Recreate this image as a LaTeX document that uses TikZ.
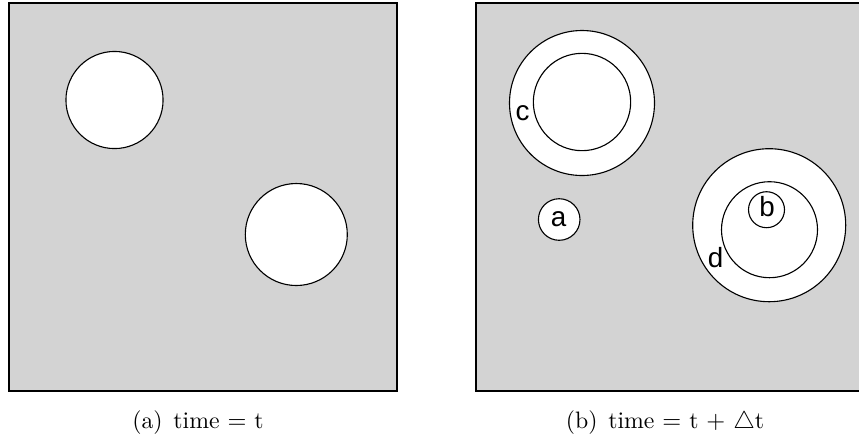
\documentclass[tikz,border=0pt]{standalone}
\usepackage{fontspec}
\newfontfamily\lblfont{Liberation Sans}
\definecolor{panelgray}{RGB}{211,211,211}
\begin{document}
\begin{tikzpicture}[x=0.45pt,y=-0.45pt,
  panel/.style={draw=black,line width=0.8pt,fill=panelgray},
  hole/.style={circle,draw=black,line width=0.5pt,fill=white,inner sep=0pt,outer sep=0pt},
  letter/.style={font=\lblfont\fontsize{12.5}{15}\selectfont,inner sep=0pt},
  subcap/.style={anchor=base,font=\fontsize{10.7}{13}\selectfont,inner sep=0pt}]
\useasboundingbox (0,0) rectangle (859,436);
% left panel: time = t
\draw[panel] (9,3) rectangle (397,391);
\node[hole,minimum size=43.7pt] (l1) at (114.5,100) {};
\node[hole,minimum size=45.9pt] (l2) at (296.3,234.5) {};
% right panel: time = t + dt (runs past the right border)
\begin{scope}
\clip (0,0) rectangle (859,436);
\draw[panel] (476,3) rectangle (864,391);
\end{scope}
\node[hole,minimum size=65.25pt] (cout) at (582,103) {};
\node[hole,minimum size=43.8pt] (cin) at (582,102) {};
\node[hole,minimum size=68.85pt] (dout) at (769.2,225.2) {};
\node[hole,minimum size=43.2pt] (din) at (769.5,229.7) {};
\node[hole,minimum size=16.2pt] (b) at (766.5,209.7) {};
\node[hole,minimum size=18.7pt] (a) at (559.2,219.5) {};
\node[letter] (la) at (558.5,219) {a};
\node[letter] (lb) at (767,207) {b};
\node[letter] (lc) at (522.5,113) {c};
\node[letter] (ld) at (715.5,258) {d};
% sub-captions
\node[subcap] (capa) at (198,428) {(a)\hspace{0.45em}time $=$ t};
\node[subcap] (capb) at (665,428) {(b)\hspace{0.45em}time $=$ t $+$ $\triangle$t};
\end{tikzpicture}
\end{document}
